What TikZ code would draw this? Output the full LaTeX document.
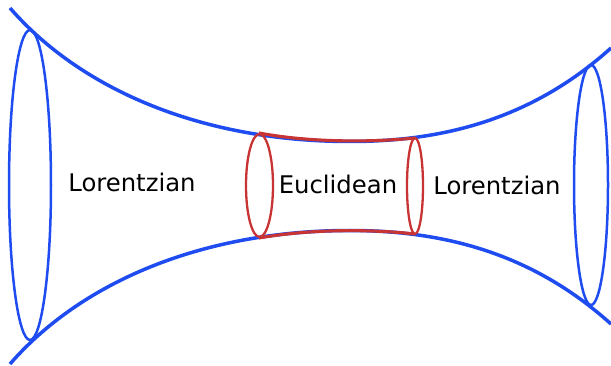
\documentclass[tikz,border=0pt]{standalone}
\usepackage{fontspec}
\setmainfont{DejaVu Sans}
\usepackage{xcolor}
\definecolor{wallBlue}{RGB}{30,76,240}
\definecolor{capRed}{RGB}{200,52,52}

\begin{document}
\begin{tikzpicture}[x=1pt,y=-1pt,
  bluewall/.style={wallBlue, line width=3.5pt},
  blueslice/.style={wallBlue, line width=2.5pt},
  redwall/.style={capRed, line width=3.1pt},
  redslice/.style={capRed, line width=2.3pt},
  regionlabel/.style={anchor=base, inner sep=0pt, font={\fontsize{24.3}{28}\selectfont}}]
\useasboundingbox (0,0) rectangle (611,366);
% outer walls
\draw[bluewall] (10,8) .. controls (80,88.5) and (200,141.5) .. (350,141.5)
  .. controls (450,141.5) and (536,115.5) .. (611,48);
\draw[bluewall] (10,364) .. controls (80,283.5) and (200,230.5) .. (350,230.5)
  .. controls (450,230.5) and (536,256.5) .. (611,324);
% euclidean piece
\draw[redwall] (259,133) .. controls (310,142.5) and (370,142.5) .. (415,138);
\draw[redwall] (259,238) .. controls (310,229) and (370,229) .. (415,234);
\draw[redslice] (259.5,185.5) ellipse [x radius=13.5, y radius=51.5];
\draw[redslice] (415,186) ellipse [x radius=8, y radius=48];
% end slices
\draw[blueslice] (30,185) ellipse [x radius=21, y radius=155];
\draw[blueslice] (591,185) ellipse [x radius=17, y radius=120];
% labels
\node[regionlabel] (lorL) at (132,192) {Lorentzian};
\node[regionlabel] (eucl) at (338,194) {Euclidean};
\node[regionlabel] (lorR) at (497,195) {Lorentzian};
\end{tikzpicture}
\end{document}
